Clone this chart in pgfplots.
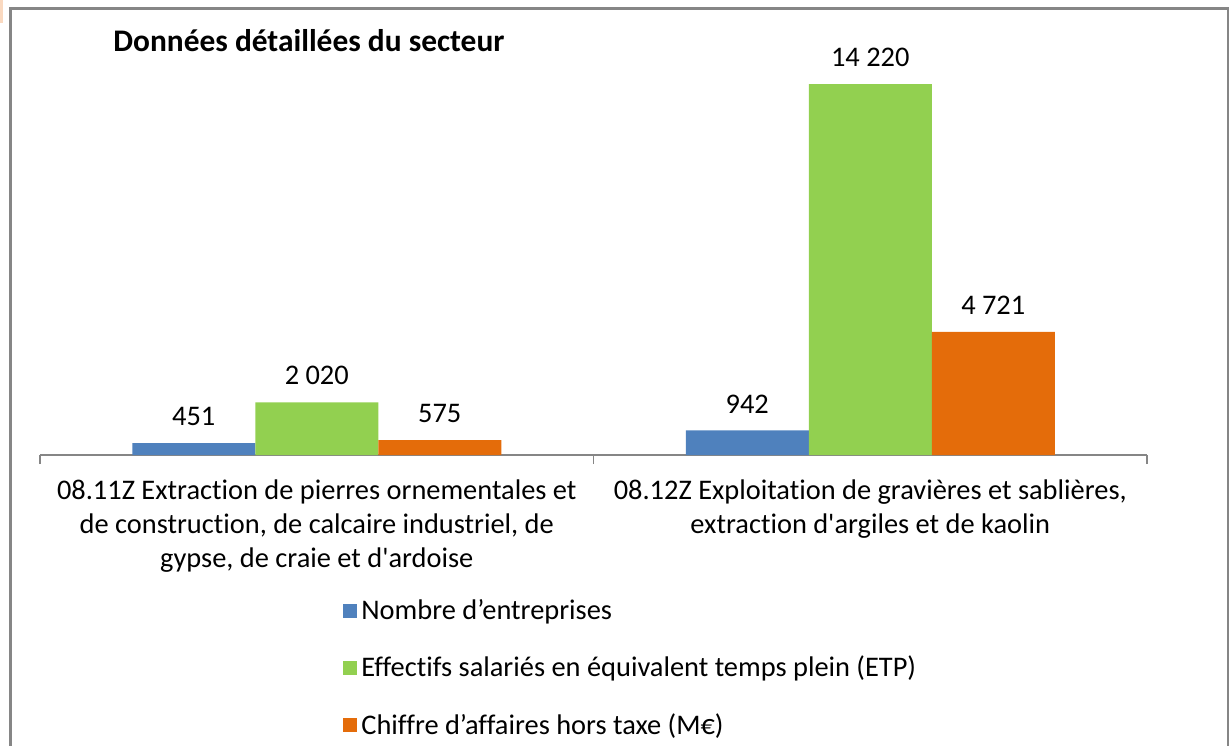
\documentclass[border=0pt]{standalone}
\usepackage{fontspec}
\setmainfont{Carlito}[Ligatures={TeX,NoCommon}]
\usepackage{pgfplots}
\pgfplotsset{compat=1.18}
\definecolor{cblue}{HTML}{4F81BD}
\definecolor{cgreen}{HTML}{92D050}
\definecolor{corange}{HTML}{E46C0A}
\definecolor{cframe}{HTML}{868686}
\definecolor{ccorner}{HTML}{FAD9C0}
\begin{document}
\begin{tikzpicture}[x=0.5pt,y=0.5pt]
\useasboundingbox (0,0) rectangle (1230,745);
\fill[ccorner] (0,745) rectangle (3,722);
\draw[cframe, line width=1.4pt] (10.7,-20) -- (10.7,736.3) -- (1228,736.3) -- (1228,-20);
\node[anchor=base west, inner sep=0pt, font=\bfseries\fontsize{15.7}{18}\selectfont] at (113,693) {Données détaillées du secteur};
\begin{axis}[
  at={(20pt,145pt)}, anchor=south west,
  scale only axis, width=553.5pt, height=197.5pt,
  xmin=-0.5, xmax=1.5, ymin=0, ymax=15140,
  clip=false,
  ybar=0pt, bar width=61.5pt,
  axis x line*=bottom, axis y line=none,
  axis line style={draw=cframe, line width=0.75pt},
  xtick={0,1},
  xticklabels={{08.11Z Extraction de pierres ornementales et\\de construction, de calcaire industriel, de\\gypse, de craie et d\textquotesingle ardoise},
               {08.12Z Exploitation de gravières et sablières,\\extraction d\textquotesingle argiles et de kaolin}},
  minor xtick={-0.5,0.5,1.5},
  major tick length=0pt, minor tick length=4.5pt,
  xtick align=outside,
  minor x tick style={draw=cframe, line width=0.75pt},
  major x tick style={draw=none},
  x tick label style={font=\fontsize{14.2}{17}\selectfont, align=center, anchor=north, yshift=-8.8pt},
  /pgf/number format/1000 sep={\ },
  /pgf/number format/assume math mode=true,
  nodes near coords,
  nodes near coords style={font=\fontsize{14.2}{16}\selectfont, anchor=south, inner sep=0pt, yshift=8.5pt, text=black},
  legend style={at={(0.2737,-0.354)}, anchor=north west, draw=none, fill=none, inner sep=0pt,
    font=\fontsize{14.2}{16}\selectfont, row sep=12.8pt, nodes={inner sep=2pt}},
  legend cell align=left,
  legend image code/.code={\fill[#1] (0pt,-3.5pt) rectangle (7pt,3.5pt);},
]
\addplot[fill=cblue, draw=none] coordinates {(0,451) (1,942)};
\addplot[fill=cgreen, draw=none] coordinates {(0,2020) (1,14220)};
\addplot[fill=corange, draw=none] coordinates {(0,575) (1,4721)};
\legend{Nombre d’entreprises, Effectifs salariés en équivalent temps plein (ETP), Chiffre d’affaires hors taxe (M€)}
\end{axis}
\end{tikzpicture}
\end{document}
